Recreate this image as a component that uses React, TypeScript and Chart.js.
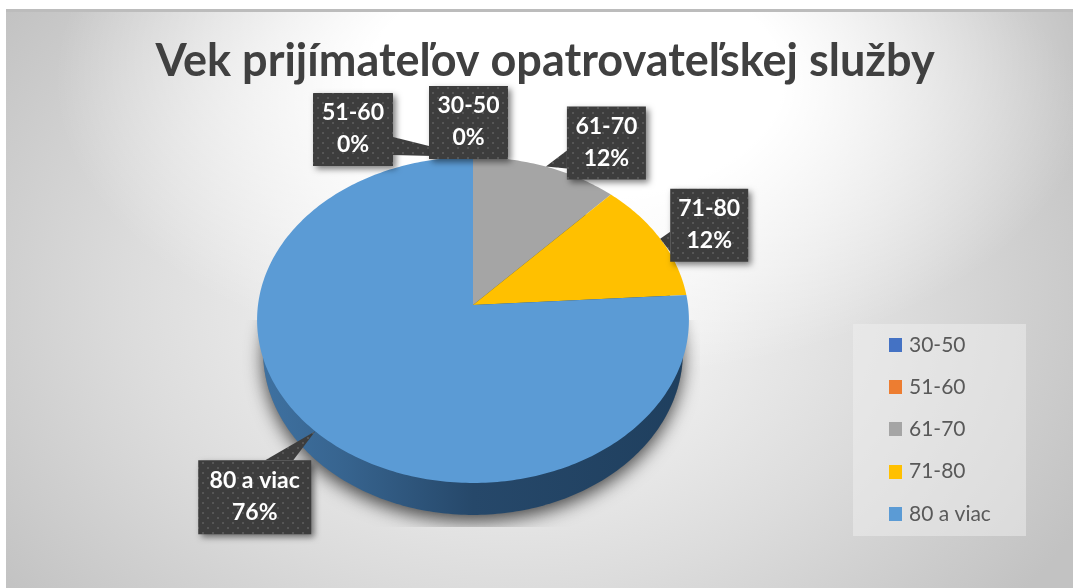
import React, { useEffect, useRef } from "react";
import { Chart, registerables } from "chart.js";

Chart.register(...registerables);

const TITLE = "Vek prijímateľov opatrovateľskej služby";
const categories = ["30-50", "51-60", "61-70", "71-80", "80 a viac"];
const shares = [0, 0, 12, 12, 76];
const sliceColors = ["#4472C4", "#ED7D31", "#A5A5A5", "#FFC000", "#5B9BD5"];

// Label layout, relative to the slice's outer mid-point: box offset and size, callout base on the box.
const labelLayout: Record<string, { dx: number; dy: number; w: number; h: number; base: number[][] }> = {
  "51-60": { dx: -160, dy: -64, w: 80, h: 73, base: [[80, 44], [80, 62]] },
  "30-50": { dx: -44, dy: -71, w: 79, h: 73, base: [[30, 73], [50, 73]] },
  "61-70": { dx: 21, dy: -60, w: 79, h: 73, base: [[0, 44], [0, 62]] },
  "71-80": { dx: 10, dy: -50, w: 78, h: 73, base: [[0, 43], [0, 63]] },
  "80 a viac": { dx: -117, dy: 29, w: 113, h: 74, base: [[67, 0], [95, 0]] },
};
const drawOrder = ["51-60", "30-50", "61-70", "71-80", "80 a viac"];

// Perspective of the tilted pie.
const PERSP_K = 0.092;
const PERSP_A = 0.9954;
const PERSP_B = 0.748;
const DEPTH = 32;
const DEPTH_SHRINK = 0.972;

function project(el: any, angle: number): [number, number] {
  const u = Math.cos(angle);
  const v = Math.sin(angle);
  const d = 1 - PERSP_K * v;
  return [el.x + (PERSP_A * el.outerRadius * u) / d, el.y + (PERSP_B * el.outerRadius * v) / d];
}

function tracePie(ctx: CanvasRenderingContext2D, el: any) {
  ctx.beginPath();
  ctx.moveTo(el.x, el.y);
  const steps = Math.max(4, Math.ceil((el.endAngle - el.startAngle) * 60));
  for (let i = 0; i <= steps; i++) {
    const [x, y] = project(el, el.startAngle + ((el.endAngle - el.startAngle) * i) / steps);
    ctx.lineTo(x, y);
  }
  ctx.closePath();
}

function traceBase(ctx: CanvasRenderingContext2D, el: any) {
  ctx.beginPath();
  for (let i = 0; i <= 360; i++) {
    const [x, y] = project(el, (i * Math.PI) / 180);
    const px = el.x + (x - el.x) * DEPTH_SHRINK;
    const py = y + DEPTH;
    if (i === 0) ctx.moveTo(px, py);
    else ctx.lineTo(px, py);
  }
  ctx.closePath();
}

function dotPattern(ctx: CanvasRenderingContext2D) {
  const c = document.createElement("canvas");
  c.width = 10;
  c.height = 10;
  const p = c.getContext("2d")!;
  p.fillStyle = "#3d3d3d";
  p.fillRect(0, 0, 10, 10);
  p.fillStyle = "#565656";
  p.fillRect(2, 2, 2, 2);
  p.fillRect(7, 7, 2, 2);
  return ctx.createPattern(c, "repeat")!;
}

function legendSwatch(color: string) {
  const c = document.createElement("canvas");
  c.width = 13;
  c.height = 14;
  const p = c.getContext("2d")!;
  p.fillStyle = color;
  p.fillRect(0, 0, 13, 14);
  return c;
}

const scenePlugin = {
  id: "scene",
  beforeDraw(chart: any) {
    const { ctx, width, height } = chart;
    const left = 6;
    const top = 9;
    ctx.save();
    ctx.fillStyle = "#ffffff";
    ctx.fillRect(0, 0, width, height);
    ctx.beginPath();
    ctx.rect(left, top, width - left, height - top);
    ctx.clip();

    ctx.save();
    ctx.translate(515, 300);
    ctx.scale(1, 480 / 640);
    const base = ctx.createRadialGradient(0, 0, 0, 0, 0, 640);
    base.addColorStop(0, "#ffffff");
    base.addColorStop(0.6, "#dcdcdc");
    base.addColorStop(1, "#c2c2c2");
    ctx.fillStyle = base;
    ctx.fillRect(-800, -800, 1800, 1600);
    ctx.restore();

    ctx.save();
    ctx.translate(575, 80);
    ctx.scale(1, 300 / 520);
    const glow = ctx.createRadialGradient(0, 0, 0, 0, 0, 520);
    glow.addColorStop(0, "rgba(255,255,255,1)");
    glow.addColorStop(0.4, "rgba(255,255,255,1)");
    glow.addColorStop(1, "rgba(255,255,255,0)");
    ctx.fillStyle = glow;
    ctx.fillRect(-800, -800, 1800, 1600);
    ctx.restore();

    ctx.restore();
    ctx.fillStyle = "#bcbcbc";
    ctx.fillRect(left, top, width - left, 3);
    // legend panel
    ctx.fillStyle = "rgba(240,240,240,0.5)";
    ctx.fillRect(853, 324, 173, 212);
    const lg = chart.legend;
    lg.left = 871.25;
    lg.right = 1026;
    lg.top = 313;
    lg.bottom = height;
    lg.width = 154.75;
    lg.height = height - 313;
    const t = chart.titleBlock;
    t.left = 17;
    t.right = 1073;
    t.width = 1056;
  },
  beforeDatasetDraw(chart: any) {
    const { ctx } = chart;
    const arcs = chart.getDatasetMeta(0).data;
    const el = arcs[0];
    ctx.save();
    ctx.save();
    ctx.beginPath();
    ctx.rect(el.x - 233, el.y + 15, 460, 207);
    ctx.clip();
    ctx.shadowColor = "rgba(0,0,0,0.7)";
    ctx.shadowBlur = 18;
    ctx.shadowOffsetY = 6;
    ctx.fillStyle = "#777777";
    traceBase(ctx, el);
    ctx.fill();
    ctx.restore();
    const wall = ctx.createLinearGradient(el.x - el.outerRadius, 0, el.x + el.outerRadius, 0);
    wall.addColorStop(0, "#3f72a2");
    wall.addColorStop(0.2, "#37648f");
    wall.addColorStop(0.5, "#26486a");
    wall.addColorStop(1, "#1f3f5e");
    ctx.fillStyle = wall;
    traceBase(ctx, el);
    ctx.fill();
    arcs.forEach((a: any, i: number) => {
      if (a.endAngle - a.startAngle <= 0) return;
      ctx.fillStyle = sliceColors[i];
      tracePie(ctx, a);
      ctx.fill();
    });
    ctx.restore();
    return false;
  },
  afterDatasetsDraw(chart: any) {
    const { ctx } = chart;
    const arcs = chart.getDatasetMeta(0).data;
    const total = shares.reduce((s, v) => s + v, 0);
    const pattern = dotPattern(ctx);
    drawOrder.forEach((name) => {
      const i = categories.indexOf(name);
      const a = arcs[i];
      const l = labelLayout[name];
      const [ax, ay] = project(a, (a.startAngle + a.endAngle) / 2);
      const bx = ax + l.dx;
      const by = ay + l.dy;
      ctx.save();
      ctx.shadowColor = "rgba(0,0,0,0.5)";
      ctx.shadowBlur = 6;
      ctx.shadowOffsetX = 3;
      ctx.shadowOffsetY = 3;
      ctx.fillStyle = pattern;
      ctx.beginPath();
      ctx.rect(bx, by, l.w, l.h);
      ctx.fill();
      ctx.shadowColor = "transparent";
      ctx.beginPath();
      ctx.moveTo(bx + l.base[0][0], by + l.base[0][1]);
      ctx.lineTo(ax, ay);
      ctx.lineTo(bx + l.base[1][0], by + l.base[1][1]);
      ctx.closePath();
      ctx.fill();
      ctx.restore();
      ctx.fillStyle = "#ffffff";
      ctx.font = "bold 23px Lato";
      ctx.textAlign = "center";
      ctx.textBaseline = "middle";
      const cx = bx + l.w / 2;
      ctx.fillText(name, cx, by + 20);
      ctx.fillText(`${Math.round((shares[i] / total) * 100)}%`, cx, by + 52);
    });
  },
};

export default function App() {
  const ref = useRef<HTMLCanvasElement>(null);
  useEffect(() => {
    const chart = new Chart(ref.current!, {
      type: "pie",
      data: {
        labels: categories,
        datasets: [
          {
            data: shares,
            backgroundColor: sliceColors,
            borderWidth: 0,
            hoverOffset: 0,
          },
        ],
      },
      options: {
        responsive: false,
        animation: false,
        events: [],
        layout: { padding: { left: 257, right: 384, top: 34, bottom: 67 } },
        plugins: {
          title: {
            display: true,
            text: TITLE,
            color: "#404040",
            font: { family: "Lato", size: 45, weight: "bold" },
            padding: { top: 0, bottom: 1 },
            fullSize: true,
          },
          legend: {
            display: true,
            position: "chartArea",
            align: "start",
            labels: {
              color: "#595959",
              font: { family: "Lato", size: 21 },
              boxWidth: 13,
              boxHeight: 14,
              padding: 21.25,
              usePointStyle: true,
              pointStyleWidth: 6,
              generateLabels: () =>
                categories.map((name, i) => ({
                  text: name,
                  fillStyle: sliceColors[i],
                  strokeStyle: sliceColors[i],
                  fontColor: "#595959",
                  lineWidth: 0,
                  pointStyle: legendSwatch(sliceColors[i]),
                  hidden: false,
                  index: i,
                })),
            },
          },
          tooltip: { enabled: false },
        },
      },
      plugins: [scenePlugin],
    } as any);
    return () => chart.destroy();
  }, []);
  return (
    <div style={{ position: "fixed", left: 0, top: 0, width: 1073, height: 588 }}>
      <canvas ref={ref} width={1073} height={588} style={{ display: "block", filter: "blur(0.4px)" }} />
    </div>
  );
}
